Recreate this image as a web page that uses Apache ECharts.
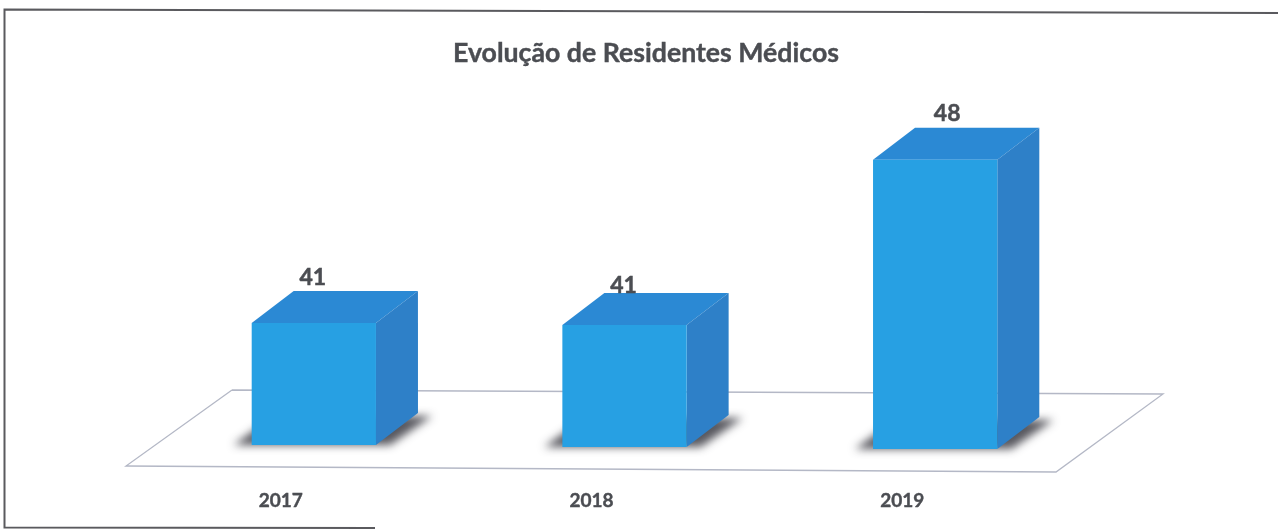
<!DOCTYPE html>
<html>
<head>
<meta charset="utf-8">
<style>html,body{margin:0;padding:0;background:#fff}#c{width:1278px;height:530px}</style>
<script src="https://cdn.jsdelivr.net/npm/echarts@6/dist/echarts.min.js"></script>
</head>
<body>
<div id="c"></div>
<script>
const titleText = 'Evolução de Residentes Médicos';
const years = ['2017', '2018', '2019'];
const residents = [41, 41, 48];

// appearance
const FONT = 'Lato, Carlito, "Open Sans", sans-serif';
const TEXT = '#4b4d52';
const FRONT = '#27a0e3', TOP = '#2b89d4', SIDE = '#2e80c8';
const DEPTH_X = 42, DEPTH_Y = 32, TILT = 0.0064, MID_X = 624.5, FAR = 3000;
const labelNudge = [[-1, -46], [-1, -40], [12, -46]];

const chart = echarts.init(document.getElementById('c'), null, {renderer: 'canvas'});

function poly(points, style) {
  return {type: 'polygon', shape: {points}, style};
}

function renderBar(params, api) {
  const i = api.value(0);
  const top = api.coord([i, api.value(1)]);
  const w = api.size([1, 0])[0] * 0.4;
  const cx = top[0];
  const shift = TILT * (cx - MID_X);
  const x0 = cx - w / 2, x1 = cx + w / 2;
  const yb = params.coordSys.y + params.coordSys.height + shift;
  const yt = top[1] + shift;
  const n = labelNudge[i];
  // The soft floor shadow: the shape sits off canvas and only its blur lands on the floor.
  const shadowPts = [[x0 - 18, yb], [x0 + 22, yb - DEPTH_Y + 3], [x1 + DEPTH_X + 14, yb - DEPTH_Y + 3], [x1 + 14, yb]]
    .map(p => [p[0] - FAR, p[1]]);
  return {
    type: 'group',
    children: [
      poly(shadowPts, {fill: '#000', shadowBlur: 9, shadowOffsetX: FAR, shadowColor: 'rgba(70,70,78,0.9)'}),
      poly([[x0, yt], [x0 + DEPTH_X, yt - DEPTH_Y], [x1 + DEPTH_X, yt - DEPTH_Y], [x1, yt]], {fill: TOP}),
      poly([[x1, yt], [x1 + DEPTH_X, yt - DEPTH_Y], [x1 + DEPTH_X, yb - DEPTH_Y], [x1, yb]], {fill: SIDE}),
      {type: 'rect', shape: {x: x0, y: yt, width: w, height: yb - yt}, style: {fill: FRONT}},
      {type: 'text', x: cx + n[0], y: yt + n[1],
        style: {text: String(api.value(1)), fill: TEXT, font: 'bold 23px ' + FONT, align: 'center', verticalAlign: 'middle',
          stroke: TEXT, lineWidth: 0.5}}
    ]
  };
}

chart.setOption({
  animation: false,
  backgroundColor: '#ffffff',
  title: {
    text: titleText, left: 641, top: 35, textAlign: 'center',
    textStyle: {fontFamily: FONT, fontSize: 26.7, fontWeight: 'bold', color: TEXT, textBorderColor: TEXT, textBorderWidth: 0.4}
  },
  grid: {left: 158.5, right: 187.5, top: 110, bottom: 83},
  xAxis: {
    type: 'category', data: years,
    axisLine: {show: false}, axisTick: {show: false}, splitLine: {show: false},
    axisLabel: {margin: 44, padding: [0, 66, 0, 0], fontFamily: FONT, fontSize: 19, fontWeight: 'bold', color: TEXT, textBorderColor: TEXT, textBorderWidth: 0.4}
  },
  yAxis: {type: 'value', min: 35.9, max: 50, show: false, splitLine: {show: false}},
  graphic: [
    {type: 'polyline', z: 0, shape: {points: [[232, 390], [1163, 394], [1056, 472], [126, 466], [232, 390]]},
      style: {stroke: '#b4b8c6', lineWidth: 1.3, fill: '#ffffff'}},
    {type: 'polyline', z: 0, shape: {points: [[1278, 13], [4.5, 9.5], [4.5, 527.5], [375, 528]]},
      style: {stroke: '#5a5a5e', lineWidth: 2, fill: null}}
  ],
  series: [{
    type: 'custom', z: 2, clip: false,
    renderItem: renderBar,
    encode: {x: 0, y: 1},
    data: residents.map((v, i) => [i, v])
  }]
});
</script>
</body>
</html>
